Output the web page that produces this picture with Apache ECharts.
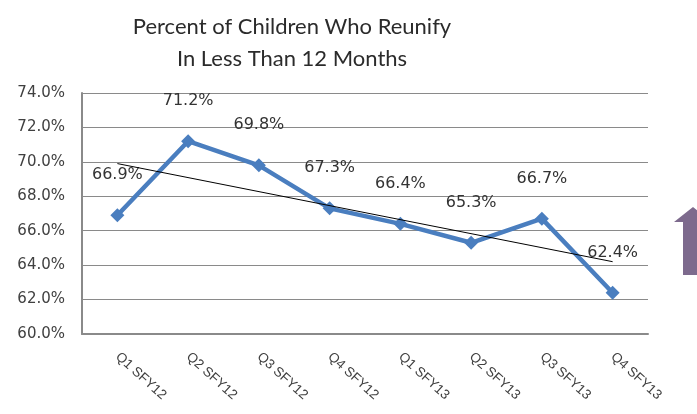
<!DOCTYPE html>
<html>
<head>
<meta charset="utf-8">
<script src="https://cdn.jsdelivr.net/npm/echarts@6/dist/echarts.min.js"></script>
<style>
  html, body { margin: 0; padding: 0; background: #fff; }
  #chart { width: 697px; height: 414px; }
</style>
</head>
<body>
<div id="chart"></div>
<script>
var quarters = ['Q1 SFY12', 'Q2 SFY12', 'Q3 SFY12', 'Q4 SFY12',
  'Q1 SFY13', 'Q2 SFY13', 'Q3 SFY13', 'Q4 SFY13'];
var reunifyPct = [66.9, 71.2, 69.8, 67.3, 66.4, 65.3, 66.7, 62.4];
// linear trend at first and last quarter
var trendStart = 69.9;
var trendEnd = 64.2;

var trendData = quarters.map(function (q, i) {
  if (i == 0) return trendStart;
  if (i == quarters.length - 1) return trendEnd;
  return null;
});

var myChart = echarts.init(document.getElementById('chart'));

var option = {
  animation: false,
  title: {
    text: 'Percent of Children Who Reunify\nIn Less Than 12 Months',
    left: 287,
    top: 6,
    textAlign: 'center',
    textStyle: {
      fontFamily: 'Lato',
      fontWeight: 'normal',
      fontSize: 22,
      lineHeight: 32,
      color: '#2b2b2b'
    }
  },
  grid: {
    left: 82,
    right: 49,
    top: 93,
    bottom: 80
  },
  xAxis: {
    type: 'category',
    data: quarters,
    boundaryGap: true,
    axisLine: { lineStyle: { color: '#8a8a8a', width: 2 } },
    axisTick: { show: false },
    axisLabel: {
      rotate: -42,
      margin: 21,
      fontFamily: 'Liberation Sans',
      fontSize: 13.5,
      color: '#404040'
    }
  },
  yAxis: {
    type: 'value',
    min: 60,
    max: 74,
    interval: 2,
    axisLine: { show: true, lineStyle: { color: '#8a8a8a', width: 2 } },
    axisTick: { show: false },
    splitLine: { lineStyle: { color: '#8a8a8a', width: 1 } },
    axisLabel: {
      margin: 17,
      fontFamily: 'DejaVu Sans',
      fontSize: 15,
      color: '#404040',
      formatter: function (v) { return v.toFixed(1) + '%'; }
    }
  },
  series: [
    {
      name: 'Trend',
      type: 'line',
      data: trendData,
      connectNulls: true,
      symbol: 'none',
      silent: true,
      z: 3,
      lineStyle: { color: '#000', width: 1 }
    },
    {
      name: 'Percent',
      type: 'line',
      data: reunifyPct,
      symbol: 'diamond',
      symbolSize: 14,
      z: 2,
      lineStyle: { color: '#4a7ebf', width: 4.5 },
      itemStyle: { color: '#4a7ebf' },
      label: {
        show: true,
        position: 'top',
        distance: 25,
        fontFamily: 'DejaVu Sans',
        fontSize: 16,
        color: '#333',
        formatter: function (p) { return p.value.toFixed(1) + '%'; }
      }
    }
  ],
  graphic: [
    {
      type: 'polygon',
      shape: {
        points: [[693, 207], [712, 222], [703, 222], [703, 275], [683, 275], [683, 222], [674, 222]]
      },
      style: { fill: '#7d6a8d' }
    }
  ]
};

myChart.setOption(option);
</script>
</body>
</html>
